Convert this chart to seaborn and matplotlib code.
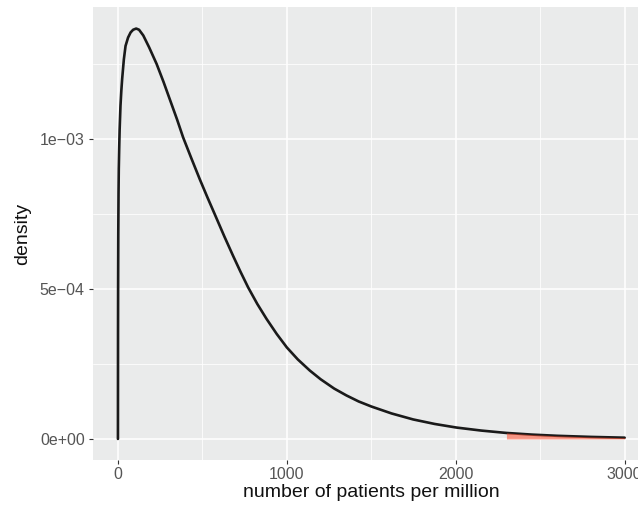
import numpy as np
import pandas as pd
import matplotlib
matplotlib.use("Agg")
import matplotlib.pyplot as plt
import matplotlib.ticker as mticker
import seaborn as sns

# ---- data ----
patients = [0, 0.5, 1, 2, 3.5, 5, 7.5, 10, 15, 20, 25, 35, 45, 60, 75, 90, 108,
            125, 150, 185, 229, 270, 318, 350, 386, 435, 485, 530, 574, 630,
            682, 725, 771, 825, 880, 940, 1000, 1065, 1136, 1200, 1280, 1353,
            1425, 1501, 1620, 1748, 1875, 2004, 2150, 2300, 2450, 2600, 2800,
            3000]
density_e3 = [0, 0.35, 0.50, 0.68, 0.82, 0.90, 0.97, 1.03, 1.11, 1.16, 1.20,
              1.265, 1.31, 1.338, 1.355, 1.364, 1.368, 1.364, 1.345, 1.305,
              1.25, 1.19, 1.115, 1.065, 1.005, 0.935, 0.865, 0.805, 0.748,
              0.675, 0.61, 0.558, 0.505, 0.45, 0.40, 0.35, 0.305, 0.265, 0.228,
              0.199, 0.168, 0.145, 0.125, 0.108, 0.085, 0.065, 0.050, 0.038,
              0.028, 0.020, 0.0145, 0.0105, 0.0068, 0.0042]
shade_from = 2300
x_ticks = [0, 1000, 2000, 3000]
x_tick_labels = ["0", "1000", "2000", "3000"]
y_ticks = [0.0, 5e-4, 1e-3]
y_tick_labels = ["0e+00", "5e\u221204", "1e\u221203"]
x_title = "number of patients per million"
y_title = "density"

df = pd.DataFrame({"x": patients, "density": np.array(density_e3) * 1e-3})

sns.set_theme(style="darkgrid", rc={
    "axes.facecolor": "#EAEBEB",
    "grid.color": "white",
})
plt.rcParams["font.family"] = ["Liberation Sans", "DejaVu Sans"]

W, H = 638, 508
fig = plt.figure(figsize=(W / 100, H / 100), dpi=100)
left_px, right_px, top_px, bot_px = 92.6, 650.0, 7.4, 459.5
ax = fig.add_axes([left_px / W, 1 - bot_px / H, (right_px - left_px) / W,
                   (bot_px - top_px) / H])

sns.lineplot(data=df, x="x", y="density", ax=ax, color="#1a1a1a",
             linewidth=1.9, estimator=None, sort=False, zorder=3)

sub = df[df["x"] >= shade_from]
ax.fill_between(sub["x"], 0, sub["density"], color="#FF4D2E", alpha=0.55,
                linewidth=0, zorder=4)

ax.set_xlim(-150, 3150)
ax.set_ylim(-0.0685e-3, 1.4385e-3)

ax.set_xticks(x_ticks)
ax.set_xticklabels(x_tick_labels)
ax.set_yticks(y_ticks)
ax.set_yticklabels(y_tick_labels)
ax.xaxis.set_minor_locator(mticker.FixedLocator([500, 1500, 2500]))
ax.yaxis.set_minor_locator(mticker.FixedLocator([2.5e-4, 7.5e-4, 1.25e-3]))
ax.grid(which="major", color="white", linewidth=1.1)
ax.grid(which="minor", color="white", linewidth=0.55)
ax.set_axisbelow(True)

ax.tick_params(which="major", length=3.2, width=0.8, color="#333333",
               labelsize=11.5, labelcolor="#555555", pad=2.5,
               bottom=True, left=True)
ax.tick_params(which="minor", length=0)
for s in ax.spines.values():
    s.set_visible(False)

ax.set_xlabel(x_title, fontsize=14, color="#111111", labelpad=1)
ax.set_ylabel(y_title, fontsize=14, color="#111111", labelpad=6)

fig.savefig("out.png", dpi=100)
